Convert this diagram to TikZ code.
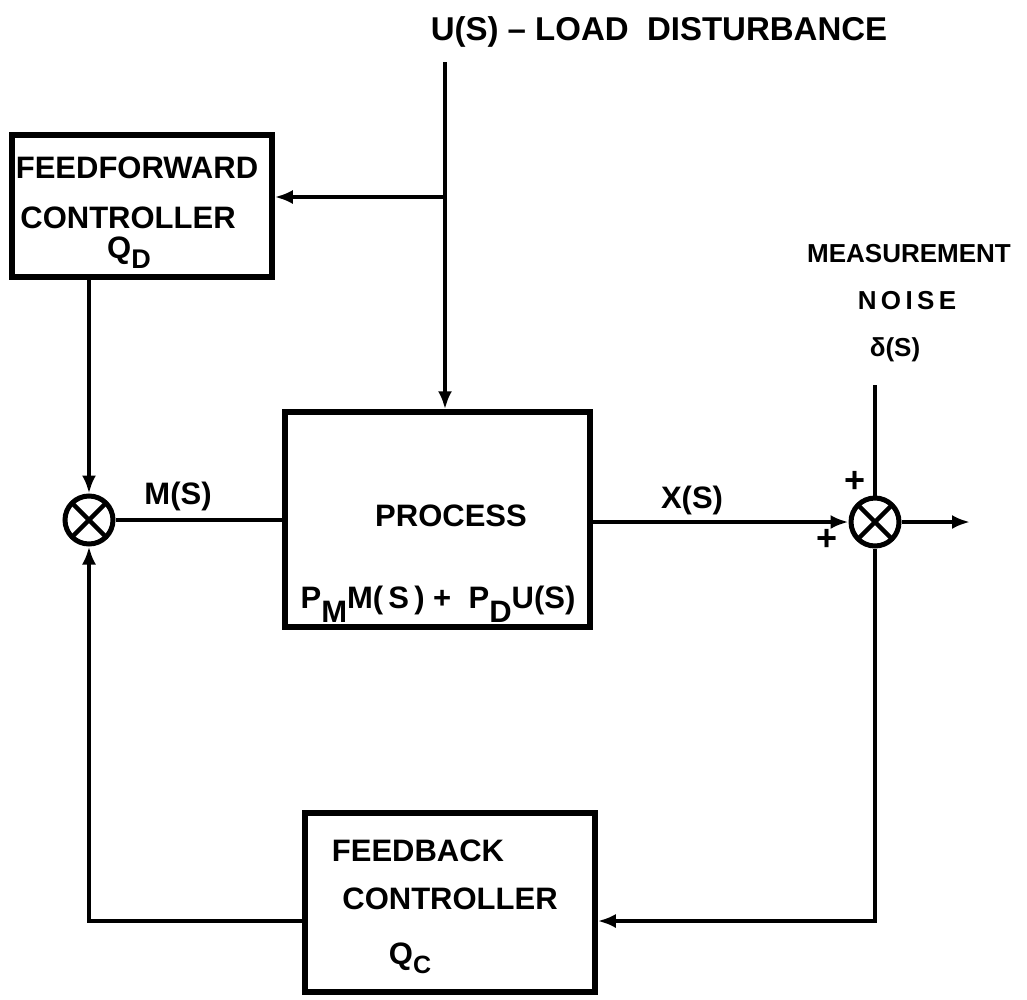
\documentclass[tikz,border=0pt]{standalone}
\usepackage{fontspec}
\setmainfont{Liberation Sans}
\usetikzlibrary{arrows.meta}
\begin{document}
\begin{tikzpicture}[x=1pt,y=-1pt,
  blk/.style={draw,line width=5.5pt,rectangle,inner sep=0pt},
  wire/.style={line width=4.5pt},
  arr/.style={wire,-{Latex[length=18pt,width=14pt]}},
  sumj/.style={draw,circle,line width=5pt,minimum size=48pt,inner sep=0pt,
    path picture={\draw[line width=4.5pt]
      (path picture bounding box.north west)--(path picture bounding box.south east)
      (path picture bounding box.north east)--(path picture bounding box.south west);}},
  lbl/.style={font=\fontsize{31}{36}\selectfont\bfseries, anchor=base, inner sep=0pt},
  slbl/.style={font=\fontsize{26}{30}\selectfont\bfseries, anchor=base, inner sep=0pt},
  tlbl/.style={font=\fontsize{33}{40}\selectfont\bfseries, anchor=base, inner sep=0pt},
  ]
\useasboundingbox[fill=white] (0,0) rectangle (1027,999);

% blocks
\node[blk, minimum width=260pt, minimum height=142pt] (ff) at (142,206) {};
\node[blk, minimum width=305pt, minimum height=215pt] (proc) at (437.5,519.5) {};
\node[blk, minimum width=290pt, minimum height=179pt] (fb) at (450,902.5) {};
\node[sumj] (sum1) at (89,520) {};
\node[sumj] (sum2) at (875,522) {};

% texts
\node[tlbl] (tdist) at (659,40) {U(S) -- LOAD\ \ DISTURBANCE};
\node[lbl] (tff1) at (137,178) {FEEDFORWARD};
\node[lbl] (tff2) at (128,228) {CONTROLLER};
\node[lbl] (tff3) at (129,258) {Q\raisebox{-10pt}{\fontsize{27}{30}\selectfont D}};
\node[slbl] (tn1) at (909,262) {MEASUREMENT};
\node[slbl] (tn2) at (907,309) {N\,O\,I\,S\,E};
\node[slbl] (tn3) at (895,356) {δ(S)};
\node[lbl] (tm) at (178,504) {M(S)};
\node[lbl] (tx) at (692,508) {X(S)};
\node[lbl] (tp1) at (451,526) {PROCESS};
\node[lbl] (tp2) at (438,608) {P\raisebox{-14pt}{M}M(\,S\,) +\ \ P\raisebox{-14pt}{D}U(S)};
\node[lbl,anchor=center,font=\fontsize{36}{40}\selectfont\bfseries] (pl1) at (855,482) {+};
\node[lbl,anchor=center,font=\fontsize{36}{40}\selectfont\bfseries] (pl2) at (827,540) {+};
\node[lbl] (tfb1) at (418,861) {FEEDBACK};
\node[lbl] (tfb2) at (450,909) {CONTROLLER};
\node[lbl] (tfb3) at (410,964) {Q\raisebox{-9pt}{\fontsize{25}{28}\selectfont C}};

% connectors
\coordinate (utop) at (445,62);
\coordinate (ubr) at (445,197);
\coordinate (noise) at (875,385);
\coordinate (out) at (970,522);
\draw[arr] (utop) -- (utop |- proc.north);
\draw[arr] (ubr) -- (ubr -| ff.east);
\draw[arr] (sum1 |- ff.south) -- (sum1.north);
\draw[wire] (sum1.east) -- (sum1.east -| proc.west);
\draw[arr] (proc.east |- sum2) -- (sum2.west);
\draw[wire] (noise) -- (sum2.north);
\draw[arr] (sum2.east) -- (out);
\draw[arr] (sum2.south) |- ([yshift=-18.5pt]fb.east);
\draw[arr] ([yshift=-18.5pt]fb.west) -| (sum1.south);
\end{tikzpicture}
\end{document}
